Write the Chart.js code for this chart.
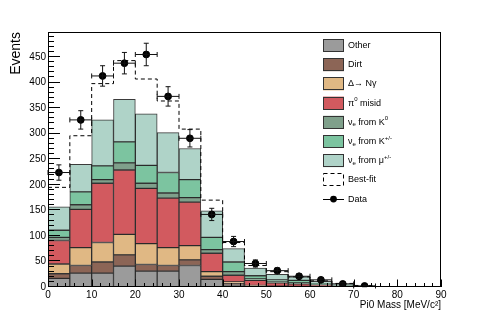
<!DOCTYPE html>
<html>
<head>
<meta charset="utf-8">
<script src="https://cdn.jsdelivr.net/npm/chart.js@4.4.1/dist/chart.umd.min.js"></script>
<style>
  html, body { margin: 0; padding: 0; background: #fff; }
  canvas { display: block; }
</style>
</head>
<body>
<canvas id="chart" width="491" height="320"></canvas>
<script>
// bins of 5 MeV/c^2, low edges
const binLow = [0, 5, 10, 15, 20, 25, 30, 35, 40, 45, 50, 55, 60, 65, 70, 75, 80, 85];
const binWidth = 5;

// stacked MC components (bottom to top)
const other  = [17, 27, 27, 41, 31, 31, 42, 15, 4, 1, 0.5, 0.3, 0.2, 0.1, 0, 0, 0, 0];
const dirt   = [9, 15, 22, 22, 13, 11, 11, 6, 3, 1, 0.5, 0.3, 0.2, 0.1, 0.1, 0, 0, 0];
const deltaNg = [19, 35, 38, 40, 41, 35, 28, 9, 3, 1, 0.5, 0.4, 0.2, 0.1, 0.1, 0, 0, 0];
const pi0Misid = [46, 75, 116, 126, 108, 97, 85, 36, 13, 10, 6.5, 5, 2.9, 1.7, 0.8, 0, 0, 0];
const nueK0  = [6, 9, 7, 14, 10, 10, 9, 7, 7, 3, 2, 2, 1.5, 1, 0.5, 0, 0, 0];
const nueKpm = [14, 25, 27, 41, 35, 40, 35, 24, 19, 6, 4, 5, 2, 1, 0.5, 0, 0, 0];
const nueMu  = [46, 54, 90, 83, 101, 78, 61, 52, 26, 15, 11, 7, 4, 2, 1, 0, 0, 0];

const bestFit = [195, 296, 398, 443, 407, 364, 309, 170, 87, 42, 30, 20, 12, 7, 3, 0, 0, 0];

// data, first 15 bins
const dataCounts = [224, 327, 413, 438, 455, 373, 291, 142, 89, 46, 32, 21, 14, 6, 2];
const dataErrors = [15, 18, 20, 21, 22, 19, 17, 12, 10, 7, 5.5, 4.5, 3.7, 2.5, 1.5];

const xTicks = [0, 10, 20, 30, 40, 50, 60, 70, 80, 90];
const yTicks = [0, 50, 100, 150, 200, 250, 300, 350, 400, 450];

const FONT = "'Liberation Sans', Arial, Helvetica, sans-serif";
const EDGE = 'rgba(25,25,25,0.85)';

function barSet(label, values, color) {
  return {
    type: 'bar',
    label: label,
    data: values.map((v, i) => ({ x: binLow[i] + binWidth / 2, y: v })),
    backgroundColor: color,
    borderColor: EDGE,
    borderWidth: 1,
    borderSkipped: false,
    stack: 'mc',
    order: 2,
    barPercentage: 1,
    categoryPercentage: 1
  };
}

const fitPoints = bestFit.map((v, i) => ({ x: binLow[i], y: v }));
fitPoints.push({ x: binLow[binLow.length - 1] + binWidth, y: bestFit[bestFit.length - 1] });

const legendEntries = [
  { parts: [['Other']], fill: '#9b9b9b' },
  { parts: [['Dirt']], fill: '#8c6556' },
  { parts: [['\u0394\u2192 N\u03b3']], fill: '#e0b884' },
  { parts: [['\u03c0'], ['0', 'sup'], [' misid']], fill: '#d25a5f' },
  { parts: [['\u03bd'], ['e', 'sub'], [' from K'], ['0', 'sup']], fill: '#7fa08b' },
  { parts: [['\u03bd'], ['e', 'sub'], [' from K'], ['+/-', 'sup']], fill: '#7cc4a0' },
  { parts: [['\u03bd'], ['e', 'sub'], [' from \u03bc'], ['+/-', 'sup']], fill: '#afd3c8' },
  { parts: [['Best-fit']], dashed: true },
  { parts: [['Data']], marker: true }
];

function drawRich(ctx, parts, x, y) {
  parts.forEach(([t, kind]) => {
    const size = kind ? 6 : 9;
    ctx.font = size + 'px ' + FONT;
    const dy = kind === 'sub' ? 2.5 : kind === 'sup' ? -3.5 : 0;
    ctx.fillText(t, x, y + dy);
    x += ctx.measureText(t).width;
  });
}

const rootStyle = {
  id: 'rootStyle',
  afterDatasetsDraw(chart) {
    const { ctx, scales: { x, y } } = chart;
    ctx.save();
    ctx.strokeStyle = '#111';
    ctx.lineWidth = 1;
    dataCounts.forEach((v, i) => {
      const cx = x.getPixelForValue(binLow[i] + binWidth / 2);
      const x0 = x.getPixelForValue(binLow[i]);
      const x1 = x.getPixelForValue(binLow[i] + binWidth);
      const yc = y.getPixelForValue(v);
      const y0 = y.getPixelForValue(Math.max(0, v - dataErrors[i]));
      const y1 = y.getPixelForValue(v + dataErrors[i]);
      ctx.beginPath();
      ctx.moveTo(x0, yc); ctx.lineTo(x1, yc);
      ctx.moveTo(cx, y0); ctx.lineTo(cx, y1);
      ctx.moveTo(cx - 2.5, y0); ctx.lineTo(cx + 2.5, y0);
      ctx.moveTo(cx - 2.5, y1); ctx.lineTo(cx + 2.5, y1);
      ctx.moveTo(x0, yc - 2.5); ctx.lineTo(x0, yc + 2.5);
      ctx.moveTo(x1, yc - 2.5); ctx.lineTo(x1, yc + 2.5);
      ctx.stroke();
    });
    ctx.restore();
  },
  afterDraw(chart) {
    const { ctx, chartArea: a, scales: { x, y } } = chart;
    ctx.save();
    ctx.strokeStyle = '#000';
    ctx.lineWidth = 1;
    // frame
    ctx.strokeRect(Math.round(a.left) + 0.5, Math.round(a.top) + 0.5,
      Math.round(a.right - a.left) - 1, Math.round(a.bottom - a.top) - 1);
    // ticks, inside the frame
    ctx.beginPath();
    for (let v = 0; v <= 90; v += 2) {
      const px = Math.round(x.getPixelForValue(v)) + 0.5;
      const len = v % 10 === 0 ? 7.5 : 4;
      ctx.moveTo(px, a.bottom);
      ctx.lineTo(px, a.bottom - len);
    }
    for (let v = 0; v <= 490; v += 10) {
      const py = Math.round(y.getPixelForValue(v)) - 0.5;
      const len = v % 50 === 0 ? 12 : 6;
      ctx.moveTo(a.left, py);
      ctx.lineTo(a.left + len, py);
    }
    ctx.stroke();

    // legend
    const sx = 323, sw = 21, sh = 13, tx = 348;
    ctx.textBaseline = 'middle';
    ctx.textAlign = 'left';
    legendEntries.forEach((e, i) => {
      const cy = 45.5 + i * 19.2;
      if (e.fill) {
        ctx.fillStyle = e.fill;
        ctx.fillRect(sx, cy - sh / 2, sw, sh);
        ctx.strokeStyle = '#333';
        ctx.setLineDash([]);
        ctx.strokeRect(sx + 0.5, Math.round(cy - sh / 2) + 0.5, sw - 1, sh - 1);
      } else if (e.dashed) {
        ctx.strokeStyle = '#000';
        ctx.setLineDash([4, 3]);
        ctx.strokeRect(sx + 0.5, Math.round(cy - sh / 2) + 0.5, sw - 1, sh - 1);
        ctx.setLineDash([]);
      } else if (e.marker) {
        ctx.strokeStyle = '#000';
        ctx.beginPath();
        ctx.moveTo(sx, Math.round(cy) + 0.5);
        ctx.lineTo(sx + sw, Math.round(cy) + 0.5);
        ctx.stroke();
        ctx.fillStyle = '#000';
        ctx.beginPath();
        ctx.arc(sx + sw / 2, cy, 3.4, 0, Math.PI * 2);
        ctx.fill();
      }
      ctx.fillStyle = '#000';
      drawRich(ctx, e.parts, tx, cy);
    });
    ctx.restore();
  }
};

new Chart(document.getElementById('chart'), {
  type: 'bar',
  data: {
    datasets: [
      barSet('Other', other, '#9b9b9b'),
      barSet('Dirt', dirt, '#8c6556'),
      barSet('Delta', deltaNg, '#e0b884'),
      barSet('pi0 misid', pi0Misid, '#d25a5f'),
      barSet('nue K0', nueK0, '#7fa08b'),
      barSet('nue K+-', nueKpm, '#7cc4a0'),
      barSet('nue mu+-', nueMu, '#afd3c8'),
      {
        type: 'line',
        label: 'Best-fit',
        data: fitPoints,
        stepped: true,
        borderColor: '#000',
        borderWidth: 1,
        borderDash: [4, 3],
        pointRadius: 0,
        fill: false,
        order: 1
      },
      {
        type: 'scatter',
        label: 'Data',
        data: dataCounts.map((v, i) => ({ x: binLow[i] + binWidth / 2, y: v })),
        backgroundColor: '#000',
        borderColor: '#000',
        pointRadius: 3.4,
        order: 0
      }
    ]
  },
  options: {
    responsive: false,
    animation: false,
    layout: { padding: { top: 32, right: 50, left: 0, bottom: 0 } },
    plugins: { legend: { display: false }, tooltip: { enabled: false } },
    scales: {
      x: {
        type: 'linear',
        min: 0,
        max: 90,
        offset: false,
        grid: { display: false, drawTicks: false },
        border: { display: false },
        afterBuildTicks(s) { s.ticks = xTicks.map(v => ({ value: v })); },
        ticks: { padding: 2, color: '#000', maxRotation: 0, autoSkip: false,
                 font: { family: FONT, size: 10 } },
        title: { display: true, text: 'Pi0 Mass [MeV/c\u00b2]', align: 'end', color: '#000',
                 font: { family: FONT, size: 10 }, padding: { top: 0, bottom: 9 } },
        afterFit(s) { s.height = 33; }
      },
      y: {
        stacked: true,
        min: 0,
        max: 499,
        grid: { display: false, drawTicks: false },
        border: { display: false },
        afterBuildTicks(s) { s.ticks = yTicks.map(v => ({ value: v })); },
        ticks: { padding: 2, color: '#000', autoSkip: false,
                 font: { family: FONT, size: 10 } },
        title: { display: true, text: 'Events', align: 'end', color: '#000',
                 font: { family: FONT, size: 14 }, padding: { top: 8, bottom: 0 } },
        afterFit(s) { s.width = 48; }
      }
    }
  },
  plugins: [rootStyle]
});
</script>
</body>
</html>
